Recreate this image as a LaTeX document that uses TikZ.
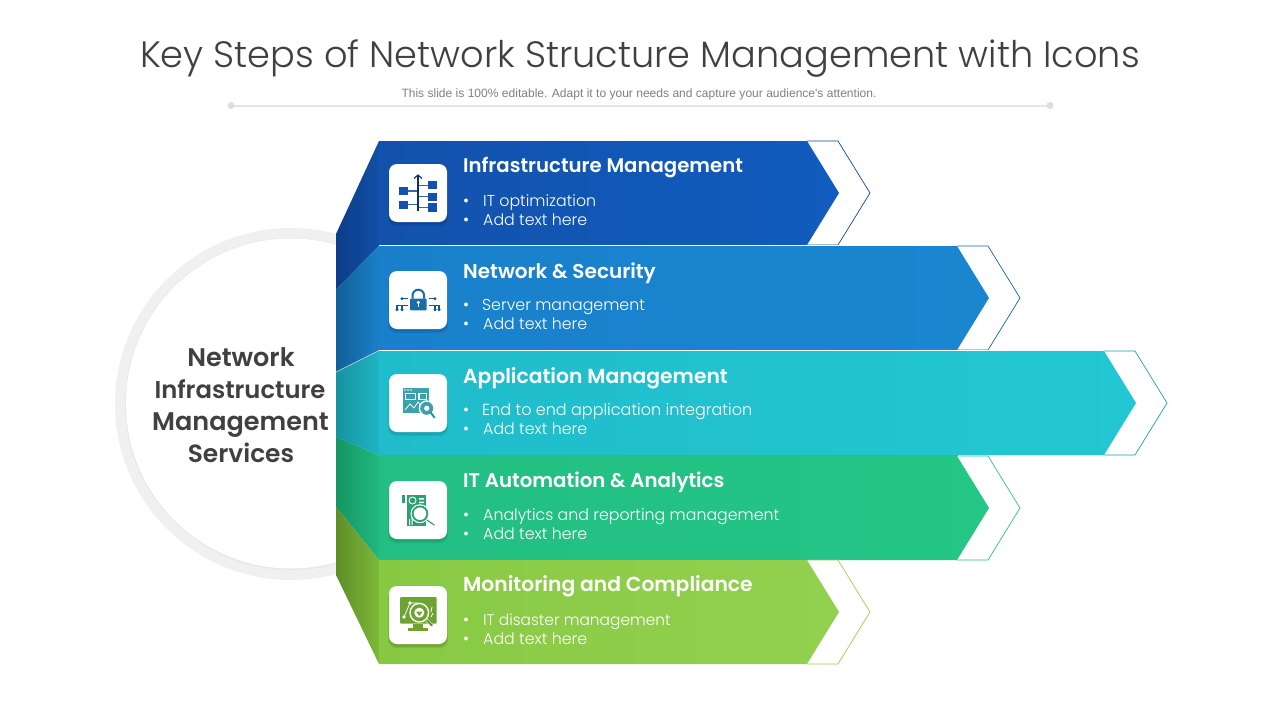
\documentclass[tikz,border=0pt]{standalone}
\usepackage{fontspec}
\setmainfont{Poppins}
\newfontfamily\lightf{Poppins Light}
\newfontfamily\semif{Poppins SemiBold}
\newfontfamily\subf{Liberation Sans}
\definecolor{cA}{HTML}{115CBE}\definecolor{cAl}{HTML}{1252AC}\definecolor{cAd}{HTML}{0C3D88}\definecolor{cAm}{HTML}{1150A6}
\definecolor{cB}{HTML}{1A86D0}\definecolor{cBl}{HTML}{1A80CC}\definecolor{cBd}{HTML}{125F97}\definecolor{cBm}{HTML}{1A80C8}
\definecolor{cC}{HTML}{22C7D3}\definecolor{cCl}{HTML}{20BCCB}\definecolor{cCd}{HTML}{16929E}\definecolor{cCm}{HTML}{1FB4C4}
\definecolor{cD}{HTML}{23C685}\definecolor{cDl}{HTML}{23BE84}\definecolor{cDd}{HTML}{169563}\definecolor{cDm}{HTML}{21B87E}
\definecolor{cE}{HTML}{92D14F}\definecolor{cEl}{HTML}{88C944}\definecolor{cEd}{HTML}{5E8E27}\definecolor{cEm}{HTML}{7CB83A}
\definecolor{ringc}{HTML}{F0F0F0}
\definecolor{darktext}{HTML}{404040}
\tikzset{
  x=1pt,y=-1pt,
  tile/.style={fill=white,rounded corners=8pt,minimum width=58pt,minimum height=58pt,inner sep=0pt,draw=none},
  head/.style={anchor=base west,text=white,font=\semif\fontsize{#1}{24}\selectfont,inner sep=0pt},
  head/.default=20,
  item/.style={anchor=base west,text=white,font=\lightf\fontsize{#1}{20}\selectfont,inner sep=0pt},
  item/.default=15.8,
  dot/.style={anchor=base west,text=white,font=\lightf\fontsize{16.5}{20}\selectfont,inner sep=0pt},
  centre/.style={text=darktext,font=\semif\fontsize{#1}{32}\selectfont,inner sep=0pt,anchor=base},
  centre/.default=25.5,
}
\newcommand\ArrowBand[5]{% top y, shoulder x, left colour, right colour, line colour
  \draw[#5,line width=0.7pt,fill=white] (#2,#1) -- (#2+31,#1) -- (#2+63,#1+52) -- (#2+31,#1+104) -- (#2,#1+104);
  \shade[left color=#3,right color=#4] (379,#1) -- (#2,#1) -- (#2+32,#1+52) -- (#2,#1+104) -- (379,#1+104) -- cycle;
}
\newcommand\TileShadow[3]{% centre x, centre y, colour
  \foreach \s/\o in {0/0.25,1/0.25,2/0.25}{
    \fill[#3,opacity=\o,rounded corners=8pt] (#1-29-\s/2,#2-25) rectangle (#1+29+\s/2,#2+31+\s);
  }
}
\begin{document}
\begin{tikzpicture}
\useasboundingbox (0,0) rectangle (1280,720);
\fill[white] (0,0) rectangle (1280,720);

% title
\node[anchor=base,inner sep=0pt,text=darktext,font=\lightf\fontsize{36.7}{44}\selectfont] (title) at (640,67) {Key Steps of Network Structure Management with Icons};
\node[anchor=base,inner sep=0pt,text=black!50,font=\subf\fontsize{12.05}{14}\selectfont] (subtitle) at (639,97) {This slide is 100\% editable. Adapt it to your needs and capture your audience's attention.};
\coordinate (ruleL) at (231,105.5);
\coordinate (ruleR) at (1050,105.5);
\draw[black!10,line width=2pt] (ruleL) -- (ruleR);
\fill[black!13] (ruleL) circle (3.5);
\fill[black!13] (ruleR) circle (3.5);

% circle
\fill[ringc] (291,404) circle (176);
\fill[black!9] (291,404) circle (166);
\fill[white] (291,403.5) circle (165);
\node[centre] (c1) at (241,366) {Network};
\node[centre={24.3}] (c2) at (240,398) {Infrastructure};
\node[centre] (c3) at (240.5,430) {Management};
\node[centre={24.9}] (c4) at (241,462) {Services};

% side faces
\shade[left color=cAd,right color=cAm] (379,141) -- (336,234) -- (336,290) -- (379,245.5) -- cycle;
\shade[left color=cBd,right color=cBm] (379,245.5) -- (336,290) -- (336,372) -- (379,350.5) -- cycle;
\shade[left color=cCd,right color=cCm] (379,350.5) -- (336,372) -- (336,437) -- (379,455.5) -- cycle;
\shade[left color=cDd,right color=cDm] (379,455.5) -- (336,437) -- (336,507) -- (379,560) -- cycle;
\shade[left color=cEd,right color=cEm] (379,560) -- (336,507) -- (336,575) -- (379,664) -- cycle;
\draw[white,opacity=0.5,line width=0.7pt] (379,350.5) -- (336,372);

% patches that close the hairline gaps between touching bands
\fill[cDl] (379,454) rectangle (958,457);
\fill[cEl] (379,559) rectangle (808,561);

% arrows
\ArrowBand{141}{807}{cAl}{cA}{cA!75!black}
\ArrowBand{246}{957}{cBl}{cB}{cB!75!black}
\ArrowBand{351}{1104}{cCl}{cC}{cC!80!black}
\ArrowBand{456}{957}{cDl}{cD}{cD}
\ArrowBand{560}{807}{cEl}{cE}{cE}
\draw[white,line width=1pt] (379,245.5) -- (840,245.5);
\draw[white,line width=1pt] (379,350.5) -- (990,350.5);

% tiles
\TileShadow{418}{193}{cAd}
\TileShadow{418}{300}{cBd}
\TileShadow{418}{403}{cCd}
\TileShadow{418}{510}{cDd}
\TileShadow{418}{615}{cEd}
\node[tile] (t1) at (418,193) {};
\node[tile] (t2) at (418,300) {};
\node[tile] (t3) at (418,403) {};
\node[tile] (t4) at (418,510) {};
\node[tile] (t5) at (418,615) {};

% icon 1
\begin{scope}[shift={(418,193)}]
  \draw[cAl!60!gray,line width=1.3pt] (-10,-2) -- (0,-2) (-10,11.7) -- (0,11.7) (0,-7.7) -- (10,-7.7) (0,3.7) -- (10,3.7) (0,14.7) -- (10,14.7);
  \draw[cAl!60!black,line width=1.2pt] (0,-18) -- (0,18);
  \draw[cAl!60!black,line width=1.1pt] (-4,-14.5) -- (0,-18) -- (4,-14.5);
  \fill[cAl] (-18.7,-5.7) rectangle (-10,1.7);
  \fill[cAl] (-18.7,7.7) rectangle (-10,15.7);
  \fill[cAl] (10,-11.7) rectangle (18.7,-3.7);
  \fill[cAl] (10,-0.3) rectangle (18.7,7.7);
  \fill[cAl] (10,10.3) rectangle (18.7,19);
\end{scope}

% icon 2
\begin{scope}[shift={(418,300)}]
  \fill[cBl!85!black,rounded corners=1pt] (-8,-1.5) rectangle (8.7,10.3);
  \draw[cBl!85!black,line width=2pt] (-5.5,-1.5) -- (-5.5,-4.5) arc[start angle=180,end angle=360,radius=5.8] -- (6.1,-1.5);
  \fill[white] (0.3,2.5) circle (1.7);
  \fill[white] (-0.4,3) rectangle (1,7);
  \draw[cBl!70!black,line width=1.2pt] (-16,-1.3) -- (-10,-1.3) (-21,5.3) -- (-10,5.3) (-21,5.3) -- (-21,9.7) (-16,5.3) -- (-16,9.7) (11,-1.3) -- (17,-1.3) (11,5.3) -- (21,5.3) (21,5.3) -- (21,9.7) (17,5.3) -- (17,9.7);
  \fill[cBl!70!black] (-16,-1.3) circle (1.6) (-21,9.7) circle (1.7) (-16,9.7) circle (1.7) (17,-1.3) circle (1.6) (21,9.7) circle (1.7) (17,9.7) circle (1.7);
\end{scope}

% icon 3
\begin{scope}[shift={(418,403)}]
  \fill[cCd!85!white] (-15.3,-15.3) rectangle (11,9.7);
  \fill[white] (-13.3,-10.5) rectangle (-2,-3.5);
  \fill[white] (0,-10.5) rectangle (9,-3.5);
  \fill[cCd!85!white] (-12,-9.5) rectangle (-3.5,-4.5);
  \fill[cCd!85!white] (1.5,-9.5) rectangle (7.5,-4.5);
  \draw[white,line width=0.8pt] (-13,7) -- (-8,1) -- (-4,5) -- (0,-1) -- (3,3);
  \foreach \p in {-13,-10,-7}{\fill[white] (\p,-13) circle (0.8);}
  \fill[white] (8.7,5.3) circle (8);
  \fill[cCd!85!white] (8.7,5.3) circle (6.5);
  \fill[white] (8.7,5.3) circle (2.6);
  \draw[cCd,line width=1.8pt,line cap=round] (13,10) -- (16.5,14.5);
\end{scope}

% icon 4
\begin{scope}[shift={(418,510)}]
  \fill[cDd!90!white] (-11.3,-14.7) rectangle (7.7,16.3);
  \fill[cDd!90!white] (-16.5,-14.7) rectangle (-13,-7);
  \draw[white,line width=0.9pt] (-5.5,-9.5) circle (3.5);
  \fill[white] (1,-12) rectangle (6,-10.5) (1,-8.5) rectangle (6,-7);
  \fill[white] (-9,9) rectangle (-8,15) (-6.5,7) rectangle (-5.5,15);
  \fill[white] (2,3.7) circle (9.5);
  \fill[cDd!90!white] (2,3.7) circle (8.3);
  \fill[white] (2,3.7) circle (6.3);
  \draw[cDd,line width=1pt,line cap=round] (9,10) -- (16.3,15);
\end{scope}

% icon 5
\begin{scope}[shift={(418,615)}]
  \fill[cEd!50!cEm,rounded corners=1pt] (-18,-18) rectangle (18.7,8.7);
  \fill[cEd!50!cEm] (-5,8.7) rectangle (5,13);
  \fill[cEd!50!cEm] (-10,13) rectangle (10,15.5);
  \draw[white,line width=0.8pt] (-14,2) -- (-8,-12) -- (0,-12);
  \fill[white] (-14,2) circle (1.8);
  \fill[white] (-8,-12) circle (1.8);
  \draw[white,line width=0.8pt] (14,-8) -- (13,-3) (15,-2) -- (13,2);
  \fill[white] (1.3,-2.3) circle (10);
  \fill[cEd!50!cEm] (1.3,-2.3) circle (8.5);
  \fill[white] (1.3,-2.3) circle (5);
  \fill[cEd!50!cEm] (-2,-3.5) -- (4.6,-3.5) -- (1.3,1) -- cycle;
  \draw[white,line width=3pt] (8.5,5) -- (14.5,11);
  \draw[cEd,line width=2pt,line cap=round] (9,5.5) -- (14,10.5);
\end{scope}

% texts
\node[head={19.7}] (h1) at (463,172) {Infrastructure Management};
\node[dot] (d1a) at (463,206) {•};
\node[item] (i1a) at (483,206) {IT optimization};
\node[dot] (d1b) at (463,225) {•};
\node[item] (i1b) at (483,225) {Add text here};

\node[head] (h2) at (463,278) {Network \& Security};
\node[dot] (d2a) at (463,310) {•};
\node[item] (i2a) at (482,310) {Server management};
\node[dot] (d2b) at (463,329) {•};
\node[item] (i2b) at (483,329) {Add text here};

\node[head={20.3}] (h3) at (463,383) {Application Management};
\node[dot] (d3a) at (463,415) {•};
\node[item={16}] (i3a) at (482,415) {End to end application integration};
\node[dot] (d3b) at (463,434) {•};
\node[item] (i3b) at (483,434) {Add text here};

\node[head={19.8}] (h4) at (463,487) {IT Automation \& Analytics};
\node[dot] (d4a) at (463,520) {•};
\node[item] (i4a) at (483,520) {Analytics and reporting management};
\node[dot] (d4b) at (463,539) {•};
\node[item] (i4b) at (483,539) {Add text here};

\node[head={20.3}] (h5) at (463,591) {Monitoring and Compliance};
\node[dot] (d5a) at (463,625) {•};
\node[item={15.4}] (i5a) at (483,625) {IT disaster management};
\node[dot] (d5b) at (463,644) {•};
\node[item] (i5b) at (483,644) {Add text here};
\end{tikzpicture}
\end{document}
